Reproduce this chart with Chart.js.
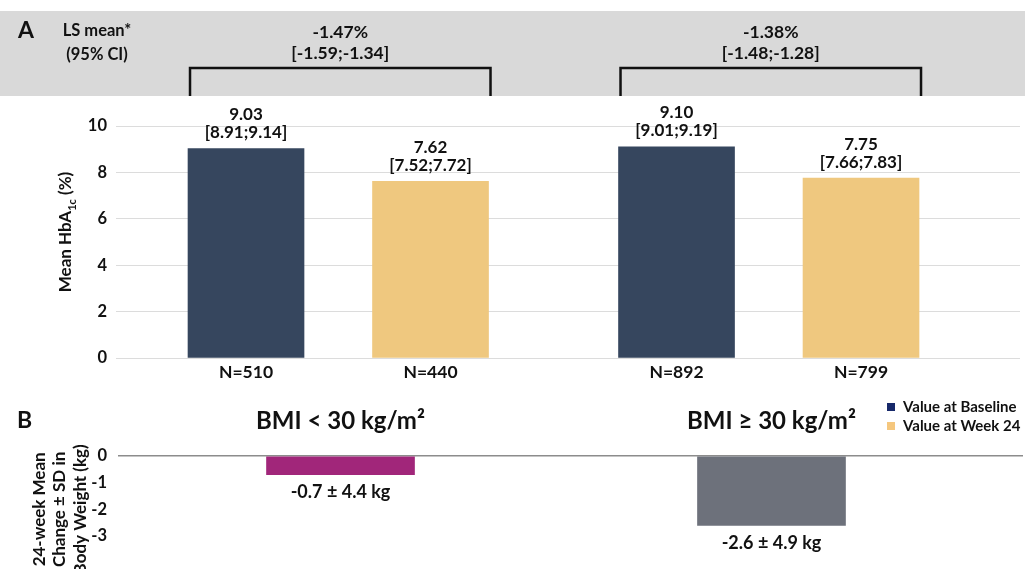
<!DOCTYPE html>
<html>
<head>
<meta charset="utf-8">
<script src="https://cdn.jsdelivr.net/npm/chart.js@4.4.1/dist/chart.umd.min.js"></script>
<style>
  html, body { margin: 0; padding: 0; background: #fff; }
  #wrap { position: relative; width: 1025px; height: 569px; overflow: hidden; }
  #graficoA { position: absolute; left: 0; top: 0; }
  #graficoB { position: absolute; left: 0; top: 380px; }
</style>
</head>
<body>
<div id="wrap">
  <canvas id="graficoA" width="1025" height="392"></canvas>
  <canvas id="graficoB" width="1025" height="189"></canvas>
</div>
<script>
// ---- dados ----
const grupos = ['BMI < 30 kg/m²', 'BMI ≥ 30 kg/m²'];
const nBaseline = [510, 892];
const nSemana24 = [440, 799];
const mediaBaseline = [9.03, 9.10];
const icBaselineInf = [8.91, 9.01];
const icBaselineSup = [9.14, 9.19];
const mediaSemana24 = [7.62, 7.75];
const icSemana24Inf = [7.52, 7.66];
const icSemana24Sup = [7.72, 7.83];
const lsMedia = [-1.47, -1.38];
const lsInf = [-1.59, -1.48];
const lsSup = [-1.34, -1.28];
const pesoMudanca = [-0.7, -2.6];
const pesoDP = [4.4, 4.9];
const ticksA = [0, 2, 4, 6, 8, 10];
const ticksB = [0, -1, -2, -3];
const legendaTextos = ['Value at Baseline', 'Value at Week 24'];

// posicoes das colunas no eixo x (layout)
const slotBaseline = [2, 9];
const slotSemana24 = [5, 12];
const slotGrupo = [3.5, 10.5];
const X_MIN = -0.114, X_MAX = 14.585;

const FONTE = "Lato, 'Open Sans', sans-serif";
const COR_TEXTO = '#111';
const corBaseline = '#36465e';
const corSemana24 = '#efc87f';
const legendaCores = ['#17296a', '#f5c77e'];

function fmt2(v) { return v.toFixed(2); }

// zera o padding extra que o eixo y pede ao layout
function eixoYFixo(largura) {
  return (s) => {
    s.width = largura;
    s.paddingTop = 0;
    s.paddingBottom = 0;
  };
}

// ---------- painel A ----------
const pluginA = {
  id: 'extrasA',
  beforeDraw(chart) {
    const ctx = chart.ctx;
    ctx.save();
    ctx.fillStyle = '#d9d9d9';
    ctx.fillRect(0, 11, chart.width, 85);
    ctx.restore();
  },
  afterDatasetsDraw(chart) {
    const ctx = chart.ctx;
    const area = chart.chartArea;
    const mB = chart.getDatasetMeta(0).data;
    const mS = chart.getDatasetMeta(1).data;
    ctx.save();
    ctx.fillStyle = COR_TEXTO;
    ctx.textAlign = 'center';
    ctx.textBaseline = 'middle';

    for (let i = 0; i < grupos.length; i++) {
      // rotulos acima das barras
      ctx.font = 'bold 17px ' + FONTE;
      let b = mB[i];
      ctx.fillText(fmt2(mediaBaseline[i]), b.x, b.y - 34);
      ctx.fillText('[' + fmt2(icBaselineInf[i]) + ';' + fmt2(icBaselineSup[i]) + ']', b.x, b.y - 16);
      let s = mS[i];
      ctx.fillText(fmt2(mediaSemana24[i]), s.x, s.y - 34);
      ctx.fillText('[' + fmt2(icSemana24Inf[i]) + ';' + fmt2(icSemana24Sup[i]) + ']', s.x, s.y - 16);

      // colchete + diferenca
      const esq = b.x - b.width / 2 + 2;
      const dir = s.x + s.width / 2 + 2;
      ctx.strokeStyle = '#111';
      ctx.lineWidth = 2.5;
      ctx.beginPath();
      ctx.moveTo(esq, 96);
      ctx.lineTo(esq, 68);
      ctx.lineTo(dir, 68);
      ctx.lineTo(dir, 96);
      ctx.stroke();
      const cx = (esq + dir) / 2;
      ctx.font = 'bold 17.5px ' + FONTE;
      ctx.fillText(fmt2(lsMedia[i]) + '%', cx, 32);
      ctx.fillText('[' + fmt2(lsInf[i]) + ';' + fmt2(lsSup[i]) + ']', cx, 53);
    }

    // letra A e LS mean
    ctx.textAlign = 'left';
    ctx.font = 'bold 23px ' + FONTE;
    ctx.fillText('A', 18, 31);
    ctx.textAlign = 'center';
    ctx.font = 'bold 16.5px ' + FONTE;
    ctx.fillText('LS mean*', 97, 31);
    ctx.fillText('(95% CI)', 97, 55);

    // titulo do eixo y com subscrito
    const cy = (area.top + area.bottom) / 2 - 10;
    ctx.translate(66, cy);
    ctx.rotate(-Math.PI / 2);
    const f1 = 'bold 17px ' + FONTE;
    const f2 = 'bold 11px ' + FONTE;
    ctx.font = f1;
    const w1 = ctx.measureText('Mean HbA').width;
    const w3 = ctx.measureText(' (%)').width;
    ctx.font = f2;
    const w2 = ctx.measureText('1c').width;
    let x0 = -(w1 + w2 + w3) / 2;
    ctx.textAlign = 'left';
    ctx.font = f1;
    ctx.fillText('Mean HbA', x0, 0);
    ctx.font = f2;
    ctx.fillText('1c', x0 + w1, 6);
    ctx.font = f1;
    ctx.fillText(' (%)', x0 + w1 + w2, 0);
    ctx.restore();
  }
};

new Chart(document.getElementById('graficoA'), {
  type: 'bar',
  data: {
    datasets: [
      {
        label: legendaTextos[0],
        data: grupos.map((g, i) => ({ x: slotBaseline[i], y: mediaBaseline[i] })),
        backgroundColor: corBaseline,
        barThickness: 116,
        grouped: false
      },
      {
        label: legendaTextos[1],
        data: grupos.map((g, i) => ({ x: slotSemana24[i], y: mediaSemana24[i] })),
        backgroundColor: corSemana24,
        barThickness: 116,
        grouped: false
      }
    ]
  },
  options: {
    responsive: false,
    animation: false,
    layout: { padding: { top: 126, left: 0, right: 5, bottom: 5 } },
    plugins: { legend: { display: false }, tooltip: { enabled: false }, title: { display: false } },
    scales: {
      x: {
        type: 'linear',
        offset: false,
        min: X_MIN,
        max: X_MAX,
        grid: { display: false, drawTicks: false },
        border: { display: false },
        afterBuildTicks: (s) => {
          s.ticks = [slotBaseline[0], slotSemana24[0], slotBaseline[1], slotSemana24[1]].map(v => ({ value: v }));
        },
        ticks: {
          padding: 4,
          autoSkip: false,
          maxRotation: 0,
          color: COR_TEXTO,
          font: { family: FONTE, size: 17.5, weight: 'bold' },
          callback: (v, i) => {
            const ns = [nBaseline[0], nSemana24[0], nBaseline[1], nSemana24[1]];
            return 'N=' + ns[i];
          }
        }
      },
      y: {
        min: 0,
        max: 10,
        afterBuildTicks: (s) => { s.ticks = ticksA.map(v => ({ value: v })); },
        afterFit: eixoYFixo(116),
        grid: { color: '#dcdcdc', lineWidth: 1, drawTicks: false },
        border: { display: false },
        ticks: {
          padding: 9,
          autoSkip: false,
          color: COR_TEXTO,
          font: { family: FONTE, size: 16.5, weight: 'bold' }
        }
      }
    }
  },
  plugins: [pluginA]
});

// ---------- painel B ----------
const pluginB = {
  id: 'extrasB',
  afterDatasetsDraw(chart) {
    const ctx = chart.ctx;
    const m = chart.getDatasetMeta(0).data;
    ctx.save();
    ctx.fillStyle = COR_TEXTO;
    ctx.textAlign = 'center';
    ctx.textBaseline = 'middle';
    ctx.font = 'bold 18px ' + FONTE;
    for (let i = 0; i < m.length; i++) {
      const bar = m[i];
      ctx.fillText(pesoMudanca[i].toFixed(1) + ' ± ' + pesoDP[i].toFixed(1) + ' kg', bar.x, bar.y + 18);
    }
    ctx.textAlign = 'left';
    ctx.font = 'bold 23px ' + FONTE;
    ctx.fillText('B', 17, 41);

    // legenda
    ctx.font = 'bold 15px ' + FONTE;
    for (let i = 0; i < legendaTextos.length; i++) {
      const y = 27 + i * 19;
      ctx.fillStyle = legendaCores[i];
      ctx.fillRect(887, y - 4, 8, 8);
      ctx.fillStyle = COR_TEXTO;
      ctx.fillText(legendaTextos[i], 903, y);
    }
    ctx.restore();
  }
};

new Chart(document.getElementById('graficoB'), {
  type: 'bar',
  data: {
    datasets: [{
      data: grupos.map((g, i) => ({ x: slotGrupo[i], y: pesoMudanca[i] })),
      backgroundColor: ['#a1267a', '#6d717b'],
      barThickness: 148
    }]
  },
  options: {
    responsive: false,
    animation: false,
    layout: { padding: { top: 6, left: 0, right: 2, bottom: 6.3 } },
    plugins: { legend: { display: false }, tooltip: { enabled: false } },
    scales: {
      x: {
        type: 'linear',
        position: 'top',
        offset: false,
        min: X_MIN,
        max: X_MAX,
        grid: { display: false, drawTicks: false },
        border: { display: false },
        afterBuildTicks: (s) => { s.ticks = slotGrupo.map(v => ({ value: v })); },
        ticks: {
          padding: 20.6,
          autoSkip: false,
          maxRotation: 0,
          color: COR_TEXTO,
          font: { family: FONTE, size: 24, weight: 'bold' },
          callback: (v, i) => grupos[i]
        }
      },
      y: {
        min: -4,
        max: 0,
        afterBuildTicks: (s) => { s.ticks = [...ticksB, -4].map(v => ({ value: v })); },
        afterFit: eixoYFixo(118),
        grid: {
          drawTicks: false,
          lineWidth: 1.5,
          color: (c) => (c.tick && c.tick.value === 0 ? '#8c8c8c' : 'rgba(0,0,0,0)')
        },
        border: { display: false },
        title: {
          display: true,
          text: ['24-week Mean', 'Change ± SD in', 'Body Weight (kg)'],
          color: COR_TEXTO,
          font: { family: FONTE, size: 17, weight: 'bold', lineHeight: 1.2 },
          padding: { top: 29.3, bottom: 0 }
        },
        ticks: {
          padding: 11,
          autoSkip: false,
          color: COR_TEXTO,
          font: { family: FONTE, size: 16.5, weight: 'bold' },
          callback: (v) => (ticksB.includes(v) ? String(v) : '')
        }
      }
    }
  },
  plugins: [pluginB]
});
</script>
</body>
</html>
